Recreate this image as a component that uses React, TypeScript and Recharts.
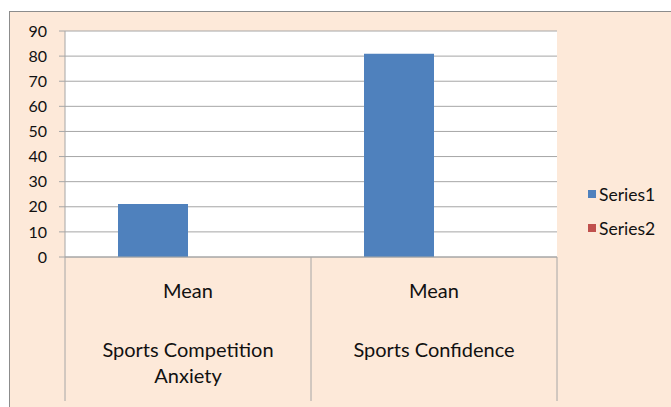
import { Bar, BarChart, CartesianGrid, Legend, XAxis, YAxis } from "recharts"

const categories = ["Sports Competition Anxiety", "Sports Confidence"]
const statLabel = "Mean"
const labelLines = [["Sports Competition", "Anxiety"], ["Sports Confidence"]]
const series1 = [21.1, 80.9]
const series2 = [0, 0]
const yTicks = [0, 10, 20, 30, 40, 50, 60, 70, 80, 90]

const data = categories.map((name, i) => ({
  name,
  Series1: series1[i],
  Series2: series2[i],
}))

const W = 661
const H = 395
const margin = { top: 19, right: 114, left: 15, bottom: 0 }
const Y_W = 40
const X_H = 150
const bandW = (W - margin.left - Y_W - margin.right) / categories.length
const FONT = "Lato, 'Open Sans', sans-serif"
const GRID = "#a6a6a6"

function CategoryTick(props: any) {
  const { x, y, index } = props
  const lines = labelLines[index] || []
  const left = x - bandW / 2
  const right = x + bandW / 2
  return (
    <g>
      <line x1={left} y1={y} x2={left} y2={y + 144} stroke={GRID} />
      {index === categories.length - 1 && (
        <line x1={right} y1={y} x2={right} y2={y + 144} stroke={GRID} />
      )}
      <text x={x} y={y + 41} textAnchor="middle" fontSize={20} fill="#111" fontFamily={FONT}>
        {statLabel}
      </text>
      {lines.map((l, i) => (
        <text key={i} x={x} y={y + 100 + i * 26} textAnchor="middle" fontSize={20} fill="#111" fontFamily={FONT}>
          {l}
        </text>
      ))}
    </g>
  )
}

const legendItems = [
  { name: "Series1", color: "#4f81bd" },
  { name: "Series2", color: "#c0504d" },
]

function LegendBox() {
  return (
    <div style={{ fontFamily: FONT, fontSize: 17.5, color: "#111" }}>
      {legendItems.map((it) => (
        <div key={it.name} style={{ display: "flex", alignItems: "center", height: 34 }}>
          <span style={{ width: 8, height: 8, background: it.color, marginRight: 3, display: "inline-block" }} />
          {it.name}
        </div>
      ))}
    </div>
  )
}

export default function App() {
  return (
    <div
      style={{
        position: "absolute",
        left: 9,
        top: 11,
        width: W,
        height: H,
        background: "#fde9d9",
        borderTop: "1px solid #8c8c8c",
        borderLeft: "1px solid #8c8c8c",
      }}
    >
      <BarChart width={W} height={H} data={data} margin={margin} barCategoryGap={53} barGap={0}>
        <CartesianGrid vertical={false} stroke={GRID} fill="#ffffff" />
        <XAxis
          dataKey="name"
          height={X_H}
          tickSize={0}
          tickMargin={0}
          axisLine={{ stroke: GRID }}
          tickLine={false}
          tick={<CategoryTick />}
          interval={0}
        />
        <YAxis
          width={Y_W}
          domain={[0, 90]}
          ticks={yTicks}
          interval={0}
          tickSize={6}
          tickMargin={12}
          axisLine={{ stroke: GRID }}
          tickLine={{ stroke: GRID }}
          tick={{ fill: "#111", fontSize: 16, fontFamily: FONT }}
        />
        <Legend
          layout="vertical"
          align="center"
          verticalAlign="middle"
          content={<LegendBox />}
          wrapperStyle={{ left: 578, top: 165, width: 90 }}
        />
        <Bar dataKey="Series1" fill="#4f81bd" isAnimationActive={false} />
        <Bar dataKey="Series2" fill="#c0504d" isAnimationActive={false} />
      </BarChart>
    </div>
  )
}
